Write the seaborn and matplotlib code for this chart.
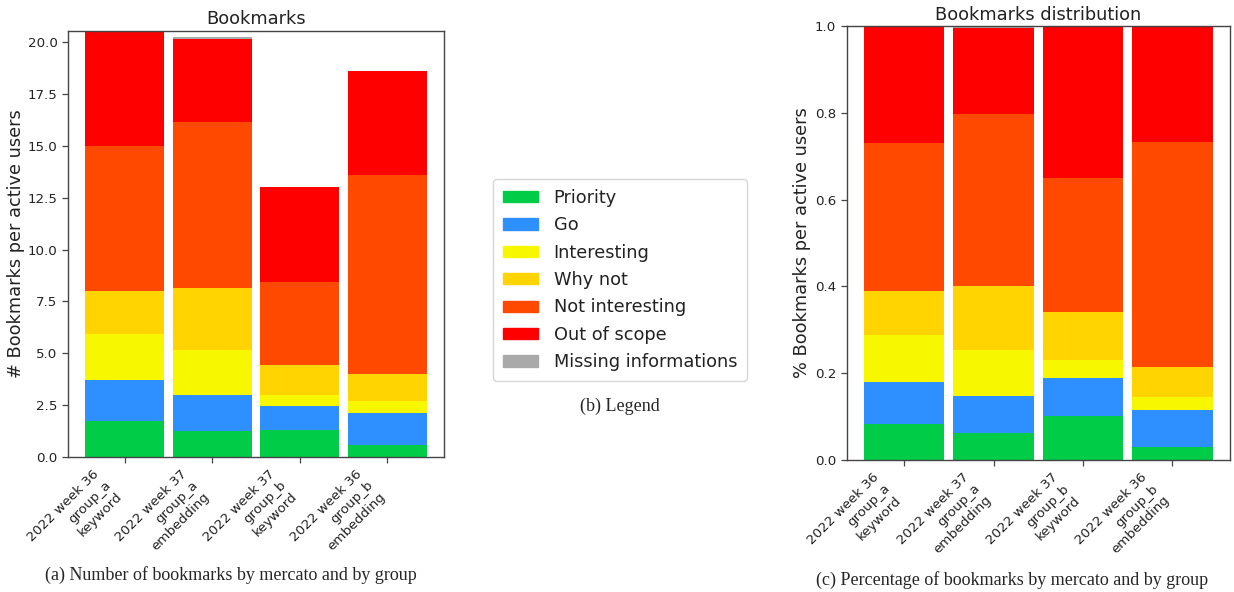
import matplotlib
matplotlib.use("Agg")
import matplotlib.pyplot as plt
import matplotlib.patches as mpatches
import seaborn as sns
import numpy as np
import pandas as pd

# ---- data ----
categories = ["2022 week 36\ngroup_a\nkeyword",
              "2022 week 37\ngroup_a\nembedding",
              "2022 week 37\ngroup_b\nkeyword",
              "2022 week 36\ngroup_b\nembedding"]
series_names = ["Priority", "Go", "Interesting", "Why not",
                "Not interesting", "Out of scope", "Missing informations"]
priority = [1.73, 1.25, 1.32, 0.56]
go = [1.98, 1.74, 1.14, 1.58]
interesting = [2.20, 2.17, 0.53, 0.57]
why_not = [2.09, 2.97, 1.44, 1.29]
not_interesting = [7.00, 8.01, 4.02, 9.60]
out_of_scope = [5.55, 4.00, 4.55, 4.99]
missing = [0.00, 0.10, 0.00, 0.00]
colors = ["#00cc48", "#2e8fff", "#f7f700", "#ffd400",
          "#ff4800", "#ff0000", "#a9a9a9"]

sns.set_style("white")
plt.rcParams["font.family"] = ["DejaVu Sans"]

values = np.array([priority, go, interesting, why_not,
                   not_interesting, out_of_scope, missing])
totals = values.sum(axis=0)
shares = values / totals

fig = plt.figure(figsize=(12.34, 5.92), dpi=100)
ax1 = fig.add_axes([0.0551, 0.228, 0.3047, 0.720])
ax2 = fig.add_axes([0.6861, 0.2225, 0.3106, 0.734])


def stacked(ax, data):
    cum = np.cumsum(data, axis=0)
    for i in range(len(series_names) - 1, -1, -1):
        df = pd.DataFrame({"cat": categories, "val": cum[i]})
        sns.barplot(data=df, x="cat", y="val", color=colors[i], width=0.9,
                    errorbar=None, linewidth=0, saturation=1, ax=ax)
    ax.set_xlim(-0.645, 3.645)
    ax.set_xlabel("")
    ax.set_xticks(range(len(categories)))
    ax.set_xticklabels(categories, rotation=45, ha="right", fontsize=9.6,
                       linespacing=1.3)
    ax.tick_params(axis="both", which="both", length=4, width=0.9,
                   color="#444444", labelsize=9.6, labelcolor="#222222",
                   bottom=True, left=True)
    for s in ax.spines.values():
        s.set_color("#444444")
        s.set_linewidth(1.0)


stacked(ax1, values)
ax1.set_ylim(0, totals.max())
ax1.set_yticks(np.arange(0, 20.01, 2.5))
ax1.set_yticklabels([f"{v:.1f}" for v in np.arange(0, 20.01, 2.5)])
ax1.set_ylabel("# Bookmarks per active users", fontsize=12.8, color="#222222",
               labelpad=2)
ax1.set_title("Bookmarks", fontsize=12.8, color="#222222", pad=5)

stacked(ax2, shares)
ax2.set_ylim(0, 1.0)
ax2.set_yticks(np.arange(0, 1.01, 0.2))
ax2.set_yticklabels([f"{v:.1f}" for v in np.arange(0, 1.01, 0.2)])
ax2.set_ylabel("% Bookmarks per active users", fontsize=12.8, color="#222222",
               labelpad=3)
ax2.set_title("Bookmarks distribution", fontsize=12.8, color="#222222", pad=4)

handles = [mpatches.Patch(color=c, label=n) for c, n in zip(colors, series_names)]
leg = fig.legend(handles=handles, loc="center", bbox_to_anchor=(620 / 1234, 1 - 280 / 592),
                 fontsize=12.8, frameon=True, handlelength=2.0, handleheight=0.6,
                 labelspacing=0.53, borderpad=0.55, handletextpad=0.85, fancybox=True)
leg.get_frame().set_edgecolor("#cccccc")
for t in leg.get_texts():
    t.set_color("#222222")

fig.text(231 / 1234, 1 - 575 / 592, "(a) Number of bookmarks by mercato and by group",
         family="Liberation Serif", fontsize=13.0, ha="center", va="center")
fig.text(620 / 1234, 1 - 406 / 592, "(b) Legend",
         family="Liberation Serif", fontsize=13.0, ha="center", va="center")
fig.text(1012 / 1234, 1 - 580 / 592, "(c) Percentage of bookmarks by mercato and by group",
         family="Liberation Serif", fontsize=13.0, ha="center", va="center")

fig.savefig("out.png", dpi=100)
